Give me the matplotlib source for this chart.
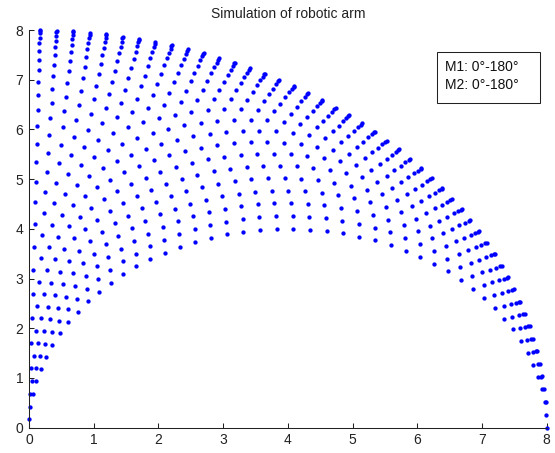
import numpy as np
import matplotlib
matplotlib.use("Agg")
import matplotlib.pyplot as plt
from matplotlib.patches import Rectangle

# Link lengths of the two-link arm
link1 = 4.0
link2 = 4.0

# Motor angles (degrees) sampled in the simulation
m1_angles = [0.0, 3.7, 7.4, 11.1, 14.8, 18.5, 22.2, 25.9, 29.6, 33.3,
             37.0, 40.7, 44.4, 48.1, 51.8, 55.5, 59.2, 62.9, 66.6, 70.3,
             74.0, 77.7, 81.4, 85.1, 88.8, 92.5, 96.2, 99.9, 103.6, 107.3,
             111.0, 114.7, 118.4, 122.1, 125.8, 129.5, 133.2, 136.9, 140.6, 144.3,
             148.0, 151.7, 155.4, 159.1, 162.8, 166.5, 170.2, 173.9, 177.6]
m2_angles = [0.0, 3.7, 7.4, 11.1, 14.8, 18.5, 22.2, 25.9, 29.6, 33.3,
             37.0, 40.7, 44.4, 48.1, 51.8, 55.5, 59.2, 62.9, 66.6, 70.3,
             74.0, 77.7, 81.4, 85.1, 88.8, 92.5, 96.2, 99.9, 103.6, 107.3,
             111.0, 114.7, 118.4, 122.1, 125.8, 129.5, 133.2, 136.9, 140.6, 144.3,
             148.0, 151.7, 155.4, 159.1, 162.8, 166.5, 170.2, 173.9, 177.6]

x_ticks = [0, 1, 2, 3, 4, 5, 6, 7, 8]
y_ticks = [0, 1, 2, 3, 4, 5, 6, 7, 8]
legend_lines = ["M1: 0°-180°", "M2: 0°-180°"]
title = "Simulation of robotic arm"

# forward kinematics
t1, t2 = np.meshgrid(np.radians(m1_angles), np.radians(m2_angles), indexing="ij")
X = link1 * np.cos(t1) + link2 * np.cos(t1 + t2)
Y = link1 * np.sin(t1) + link2 * np.sin(t1 + t2)
X = X.ravel(); Y = Y.ravel()
eps = 1e-9
keep = (X >= -eps) & (X <= 8 + eps) & (Y >= -eps) & (Y <= 8 + eps)
X = X[keep]; Y = Y[keep]

plt.rcParams['font.family'] = ['Liberation Sans', 'DejaVu Sans']
W, H = 555, 453
fig = plt.figure(figsize=(W / 100, H / 100), dpi=100)
ax = fig.add_axes([29 / W, (H - 427.7) / H, (546.7 - 29) / W, (427.7 - 30) / H])

ax.plot(X, Y, 'o', color=(0, 0, 1), markersize=3.1, markeredgewidth=0,
        linestyle='none', clip_on=False)

ax.set_xlim(0, 8)
ax.set_ylim(0, 8)
ax.set_xticks(x_ticks)
ax.set_yticks(y_ticks)
ax.tick_params(direction='in', length=3.7, width=0.75, labelsize=10,
               colors='#222222', pad=4)
for s in ['top', 'right']:
    ax.spines[s].set_visible(False)
for s in ['left', 'bottom']:
    ax.spines[s].set_linewidth(0.75)
    ax.spines[s].set_color('#222222')
ax.set_title(title, fontsize=10, pad=8.4, color='#222222')

# legend-like text box
bx0, by0, bx1, by1 = 436.7, 51.7, 540.3, 103.0
fig.patches.append(Rectangle((bx0 / W, 1 - by1 / H), (bx1 - bx0) / W, (by1 - by0) / H,
                             transform=fig.transFigure, fill=True, facecolor='white',
                             edgecolor='#222222', linewidth=0.75))
for i, line in enumerate(legend_lines):
    fig.text(445 / W, 1 - (71 + 17.7 * i) / H, line, fontsize=10,
             ha='left', va='baseline', color='#111111')

fig.savefig("out.png", dpi=100)
